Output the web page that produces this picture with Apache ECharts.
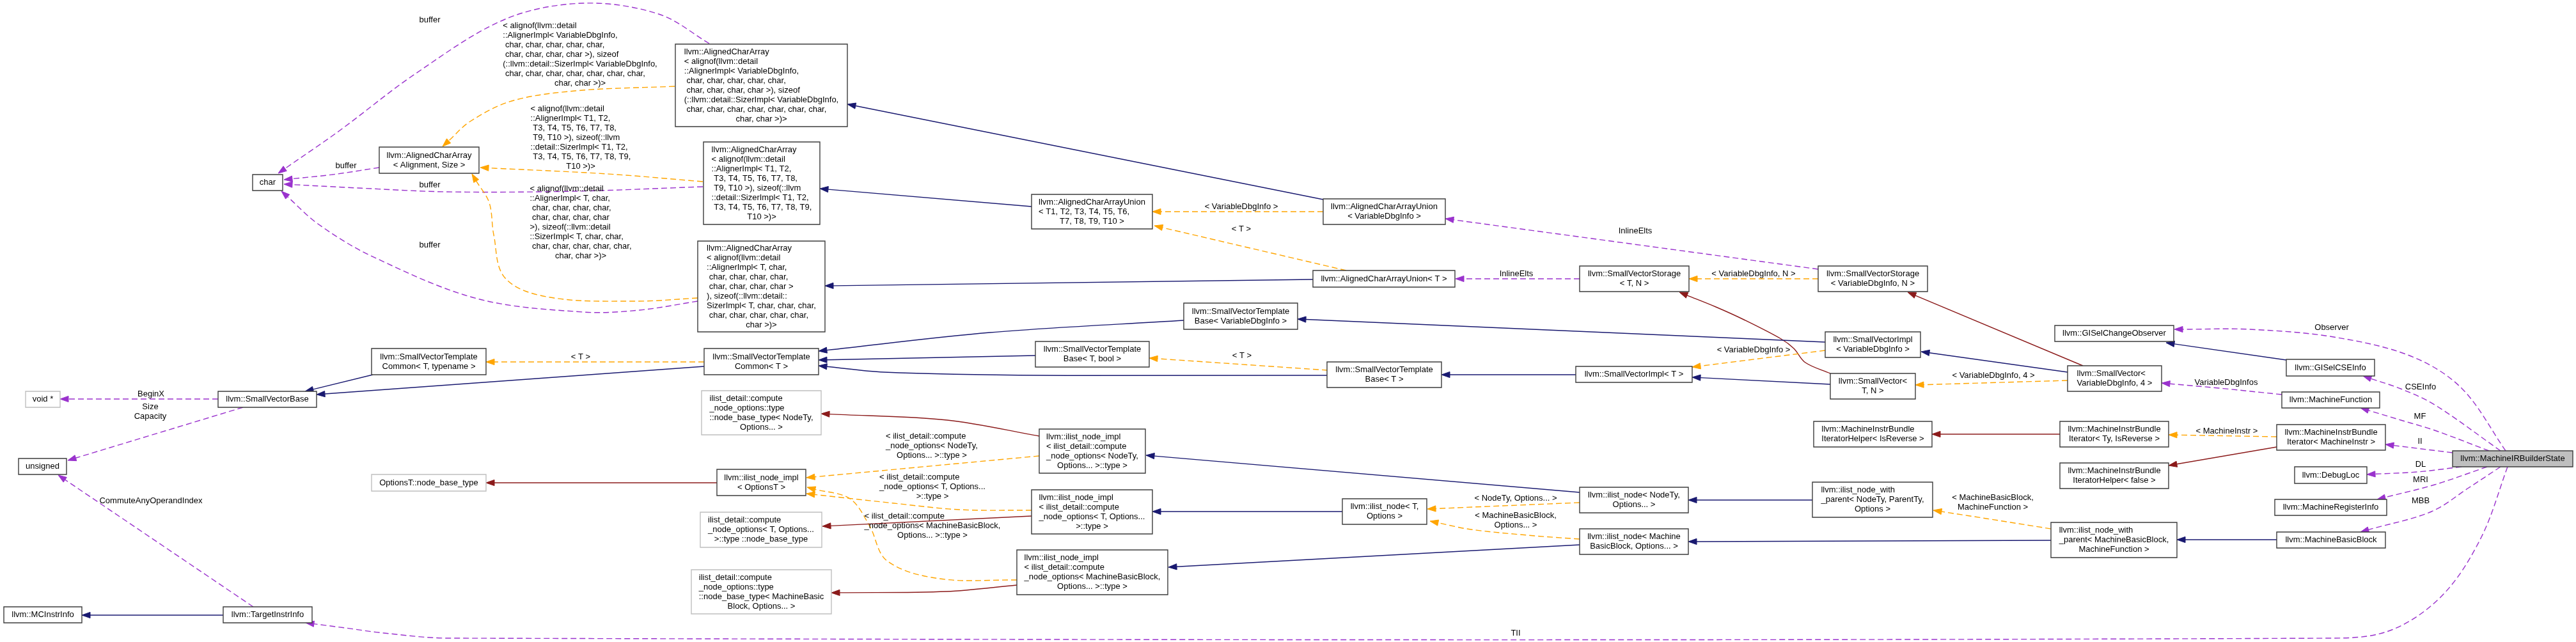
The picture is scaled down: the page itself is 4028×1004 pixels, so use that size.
<!DOCTYPE html>
<html>
<head>
<meta charset="utf-8">
<script src="https://cdn.jsdelivr.net/npm/echarts@6/dist/echarts.min.js"></script>
<style>
html,body{margin:0;padding:0;background:#ffffff;}
#chart{width:4028px;height:1004px;}
</style>
</head>
<body>
<div id="chart"></div>
<script>
// ---------- class nodes (labels) ----------
const nodeLabels = [
  'llvm::MachineIRBuilderState',
  'char',
  'llvm::AlignedCharArray\n< Alignment, Size >',
  'llvm::AlignedCharArray\n< alignof(llvm::detail\n::AlignerImpl< VariableDbgInfo,\n char, char, char, char, char,\n char, char, char, char >), sizeof\n(::llvm::detail::SizerImpl< VariableDbgInfo,\n char, char, char, char, char, char, char,\nchar, char >)>',
  'llvm::AlignedCharArray\n< alignof(llvm::detail\n::AlignerImpl< T1, T2,\n T3, T4, T5, T6, T7, T8,\n T9, T10 >), sizeof(::llvm\n::detail::SizerImpl< T1, T2,\n T3, T4, T5, T6, T7, T8, T9,\nT10 >)>',
  'llvm::AlignedCharArray\n< alignof(llvm::detail\n::AlignerImpl< T, char,\n char, char, char, char,\n char, char, char, char >\n), sizeof(::llvm::detail::\nSizerImpl< T, char, char, char,\n char, char, char, char, char,\nchar >)>',
  'llvm::AlignedCharArrayUnion\n< T1, T2, T3, T4, T5, T6,\nT7, T8, T9, T10 >',
  'llvm::AlignedCharArrayUnion\n< VariableDbgInfo >',
  'llvm::AlignedCharArrayUnion< T >',
  'llvm::SmallVectorTemplate\nBase< VariableDbgInfo >',
  'llvm::SmallVectorTemplate\nCommon< T, typename >',
  'llvm::SmallVectorTemplate\nCommon< T >',
  'llvm::SmallVectorTemplate\nBase< T, bool >',
  'llvm::SmallVectorTemplate\nBase< T >',
  'void *',
  'llvm::SmallVectorBase',
  'unsigned',
  'llvm::MCInstrInfo',
  'llvm::TargetInstrInfo',
  'OptionsT::node_base_type',
  'ilist_detail::compute\n_node_options::type\n::node_base_type< NodeTy,\nOptions... >',
  'llvm::ilist_node_impl\n< OptionsT >',
  'ilist_detail::compute\n_node_options< T, Options...\n>::type ::node_base_type',
  'ilist_detail::compute\n_node_options::type\n::node_base_type< MachineBasic\nBlock, Options... >',
  'llvm::ilist_node_impl\n< ilist_detail::compute\n_node_options< NodeTy,\nOptions... >::type >',
  'llvm::ilist_node_impl\n< ilist_detail::compute\n_node_options< T, Options...\n>::type >',
  'llvm::ilist_node_impl\n< ilist_detail::compute\n_node_options< MachineBasicBlock,\nOptions... >::type >',
  'llvm::ilist_node< T,\nOptions >',
  'llvm::SmallVectorStorage\n< T, N >',
  'llvm::SmallVectorStorage\n< VariableDbgInfo, N >',
  'llvm::SmallVectorImpl\n< VariableDbgInfo >',
  'llvm::SmallVectorImpl< T >',
  'llvm::SmallVector<\nT, N >',
  'llvm::MachineInstrBundle\nIteratorHelper< IsReverse >',
  'llvm::ilist_node< NodeTy,\nOptions... >',
  'llvm::ilist_node_with\n_parent< NodeTy, ParentTy,\nOptions >',
  'llvm::ilist_node< Machine\nBasicBlock, Options... >',
  'llvm::GISelChangeObserver',
  'llvm::SmallVector<\nVariableDbgInfo, 4 >',
  'llvm::GISelCSEInfo',
  'llvm::MachineFunction',
  'llvm::MachineInstrBundle\nIterator< Ty, IsReverse >',
  'llvm::MachineInstrBundle\nIterator< MachineInstr >',
  'llvm::MachineInstrBundle\nIteratorHelper< false >',
  'llvm::DebugLoc',
  'llvm::MachineRegisterInfo',
  'llvm::MachineBasicBlock',
  'llvm::ilist_node_with\n_parent< MachineBasicBlock,\nMachineFunction >'
];
// node kind: 'main' = the documented class of the page, 'doc' = documented, 'undoc' = undocumented
const nodeKinds = ['main','doc','doc','doc','doc','doc','doc','doc','doc','doc','doc','doc','doc','doc',
  'undoc','doc','doc','doc','doc','undoc','undoc','doc','undoc','undoc','doc','doc','doc','doc','doc','doc',
  'doc','doc','doc','doc','doc','doc','doc','doc','doc','doc','doc','doc','doc','doc','doc','doc','doc','doc'];

// ---------- layout of the diagram (box corners, diagram units) ----------
const nodeBoxes = [
  [3835,705,4023,730],[395,273,442,298],[593,230,749,271],[1056,69,1325,198],[1100,222,1282,351],
  [1091,377,1290,519],[1613,304,1802,358],[2069,311,2260,351],[2053,423,2275,449],[1851,474,2029,515],
  [581,545,760,586],[1101,545,1280,586],[1619,534,1797,574],[2075,566,2254,606],[40,612,94,637],
  [341,612,495,637],[29,717,104,742],[6,949,128,974],[349,949,488,974],[581,742,760,768],
  [1097,611,1284,680],[1121,734,1260,775],[1095,801,1285,856],[1081,891,1300,960],[1625,671,1791,740],
  [1613,766,1802,835],[1590,860,1826,930],[2099,780,2231,820],[2470,416,2641,456],[2843,416,3014,456],
  [2854,519,3003,559],[2464,573,2646,598],[2862,584,2995,624],[2836,659,3021,699],[2470,762,2640,802],
  [2834,754,3022,809],[2470,827,2640,867],[3213,509,3399,534],[3233,572,3380,612],[3575,562,3713,588],
  [3568,613,3721,638],[3221,659,3391,699],[3560,664,3730,704],[3221,724,3391,764],[3588,730,3701,756],
  [3557,781,3732,806],[3560,832,3730,857],[3207,817,3404,872]
];

// ---------- relations ----------
// kind: m = member usage, t = template instance, i = public inheritance, p = private inheritance
const edgeFrom = [3,3,4,4,2,5,5,7,6,8,7,8,28,29,29,32,38,38,38,30,32,30,31,9,12,13,13,11,10,11,15,15,18,18,0,
  21,24,24,25,26,25,26,27,34,34,36,36,35,47,47,41,42,42,39,40,0,0,0,0,0,0,0,46];
const edgeTo   = [1,2,2,1,1,1,2,3,4,5,6,6,8,7,28,28,29,30,32,31,31,9,13,11,11,11,12,15,15,10,14,16,16,17,18,
  19,20,21,21,21,22,23,25,24,27,27,26,34,36,35,33,41,43,37,38,37,39,40,42,44,45,46,47];
const edgeKinds = ['m','t','t','m','m','m','t','i','i','i','t','t','m','m','t','p','p','i','t','t','i','i','i','i','i','i','t','i','i','t','m','m','m','i','m',
  'p','p','t','t','t','p','p','i','i','t','t','i','i','i','t','p','t','p','i','m','m','m','m','m','m','m','m','i'];
const edgeLabels = [
  'buffer',
  '< alignof(llvm::detail\n::AlignerImpl< VariableDbgInfo,\n char, char, char, char, char,\n char, char, char, char >), sizeof\n(::llvm::detail::SizerImpl< VariableDbgInfo,\n char, char, char, char, char, char, char,\nchar, char >)>',
  '< alignof(llvm::detail\n::AlignerImpl< T1, T2,\n T3, T4, T5, T6, T7, T8,\n T9, T10 >), sizeof(::llvm\n::detail::SizerImpl< T1, T2,\n T3, T4, T5, T6, T7, T8, T9,\nT10 >)>',
  'buffer',
  'buffer',
  'buffer',
  '< alignof(llvm::detail\n::AlignerImpl< T, char,\n char, char, char, char,\n char, char, char, char\n>), sizeof(::llvm::detail\n::SizerImpl< T, char, char,\n char, char, char, char, char,\nchar, char >)>',
  '','','',
  '< VariableDbgInfo >',
  '< T >',
  'InlineElts',
  'InlineElts',
  '< VariableDbgInfo, N >',
  '','','',
  '< VariableDbgInfo, 4 >',
  '< VariableDbgInfo >',
  '','','','','','',
  '< T >',
  '','',
  '< T >',
  'BeginX',
  'Size\nCapacity',
  'CommuteAnyOperandIndex',
  '',
  'TII',
  '','',
  '< ilist_detail::compute\n_node_options< NodeTy,\nOptions... >::type >',
  '< ilist_detail::compute\n_node_options< T, Options...\n>::type >',
  '< ilist_detail::compute\n_node_options< MachineBasicBlock,\nOptions... >::type >',
  '','','','',
  '< NodeTy, Options... >',
  '< MachineBasicBlock,\nOptions... >',
  '','','',
  '< MachineBasicBlock,\nMachineFunction >',
  '',
  '< MachineInstr >',
  '','',
  'VariableDbgInfos',
  'Observer','CSEInfo','MF','II','DL','MRI','MBB',
  ''
];
// edge routes (points the spline passes through, start -> arrow tip)
const edgeRoutes = [
  [[1109,68],[1030,22],[912,5],[790,30],[650,115],[530,205],[435,271]],
  [[1055,135],[900,142],[800,158],[735,190],[692,229]],
  [[1099,284],[950,272],[751,262]],
  [[1099,292],[900,299],[700,300],[560,294],[444,288]],
  [[593,262],[520,273],[444,281]],
  [[1091,471],[1000,485],[912,488],[746,467],[580,400],[497,350],[440,299]],
  [[1091,466],[995,471],[860,465],[790,435],[772,367],[765,317],[738,272]],
  [[2069,312],[1325,163]],
  [[1613,323],[1282,295]],
  [[2053,437],[1290,447]],
  [[2069,331],[1802,331]],
  [[2105,423],[1805,353]],
  [[2470,436],[2276,436]],
  [[2843,421],[2260,342]],
  [[2843,436],[2641,436]],
  [[2862,584],[2823,567],[2805,545],[2785,530],[2727,500],[2683,480],[2626,457]],
  [[3257,572],[2983,457]],
  [[3233,582],[3004,550]],
  [[3233,595],[2995,602]],
  [[2854,548],[2646,574]],
  [[2862,601],[2646,590]],
  [[2854,535],[2029,499]],
  [[2464,586],[2254,586]],
  [[1851,501],[1548,520],[1280,549]],
  [[1619,556],[1280,563]],
  [[2076,587],[1630,587],[1382,582],[1280,572]],
  [[2076,579],[1797,560]],
  [[1101,573],[495,617]],
  [[583,586],[477,612]],
  [[1101,566],[760,566]],
  [[341,624],[94,624]],
  [[380,637],[106,720]],
  [[396,949],[91,743]],
  [[349,962],[128,962]],
  [[3921,730],[3880,840],[3820,930],[3740,985],[3650,998],[700,998],[600,990],[540,982],[478,974]],
  [[1121,755],[760,755]],
  [[1625,682],[1481,657],[1284,647]],
  [[1625,713],[1261,747]],
  [[1613,798],[1500,797],[1398,787],[1261,772]],
  [[1590,907],[1469,905],[1387,877],[1360,823],[1329,780],[1262,762]],
  [[1613,807],[1286,823]],
  [[1590,915],[1480,925],[1300,927]],
  [[2099,800],[1802,800]],
  [[2470,770],[1792,712]],
  [[2470,786],[2350,791],[2232,796]],
  [[2470,843],[2400,838],[2300,828],[2236,815]],
  [[2470,852],[1827,887]],
  [[2834,782],[2640,782]],
  [[3207,845],[2640,847]],
  [[3207,827],[3100,810],[3023,798]],
  [[3221,679],[3021,679]],
  [[3560,683],[3391,680]],
  [[3560,699],[3391,728]],
  [[3575,563],[3387,536]],
  [[3568,617],[3470,607],[3380,599]],
  [[3918,705],[3849,607],[3770,557],[3649,527],[3517,515],[3400,515]],
  [[3910,705],[3807,633],[3754,608],[3695,588]],
  [[3892,705],[3807,673],[3754,657],[3691,638]],
  [[3835,708],[3730,695]],
  [[3849,730],[3780,738],[3701,742]],
  [[3889,730],[3807,758],[3717,781]],
  [[3910,730],[3860,763],[3802,800],[3691,832]],
  [[3560,844],[3404,844]]
];
// label anchors: [centre x, centre y of first line]
const edgeLabelAnchors = [
  [672,31],[907,40],[908,170],[672,289],[541,259],[672,383],[908,295],null,null,null,
  [1941,323],[1941,358],[2371,428],[2557,361],[2742,428],null,null,null,[3117,587],[2742,547],
  null,null,null,null,null,null,[1942,556],null,null,[908,558],
  [236,616],[235,636],[236,783],null,[2370,990],
  null,null,[1457,682],[1458,746],[1458,807],null,null,null,null,[2370,779],[2370,806],null,null,null,[3116,778],
  null,[3482,674],null,null,[3481,598],[3646,512],[3785,605],[3784,651],[3784,690],[3785,726],[3785,750],[3785,783],null
];

// ---------- styles ----------
const FONT = '13px "Liberation Sans", Arial, Helvetica, sans-serif';
const LINE_H = 15;
const EDGE_STYLE = {
  m: {color:'#9A32CD', dash:[9,5]},
  t: {color:'#FFA500', dash:[9,5]},
  i: {color:'#191970', dash:null},
  p: {color:'#8B1A1A', dash:null}
};
const ARROW_LEN = 13, ARROW_HALF = 4.6;

const measureCtx = document.createElement('canvas').getContext('2d');
measureCtx.font = FONT;
function textW(s){ return measureCtx.measureText(s).width; }

// text block: all lines left aligned inside the block, last line centred
function textBlock(lines, cx, y0, allCentered) {
  const maxW = Math.max.apply(null, lines.map(textW));
  const left = cx - maxW / 2;
  return lines.map(function (ln, k) {
    const centre = allCentered || lines.length === 1 || k === lines.length - 1;
    return {
      type: 'text',
      x: centre ? cx : left,
      y: y0 + k * LINE_H,
      style: {text: ln, fill: '#000000', font: FONT, align: centre ? 'center' : 'left', verticalAlign: 'middle'},
      silent: true
    };
  });
}

function splinePath(pts) {
  const n = pts.length;
  const f = function (v) { return v.toFixed(2); };
  let d = 'M' + f(pts[0][0]) + ',' + f(pts[0][1]);
  if (n === 2) return d + 'L' + f(pts[1][0]) + ',' + f(pts[1][1]);
  const tan = pts.map(function (p, i) {
    const a = pts[Math.max(0, i - 1)], b = pts[Math.min(n - 1, i + 1)];
    const dx = b[0] - a[0], dy = b[1] - a[1], L = Math.hypot(dx, dy) || 1;
    return [dx / L, dy / L];
  });
  for (let i = 0; i < n - 1; i++) {
    const p = pts[i], q = pts[i + 1];
    const L = Math.hypot(q[0] - p[0], q[1] - p[1]) / 3;
    d += 'C' + f(p[0] + tan[i][0] * L) + ',' + f(p[1] + tan[i][1] * L) + ',' +
      f(q[0] - tan[i + 1][0] * L) + ',' + f(q[1] - tan[i + 1][1] * L) + ',' + f(q[0]) + ',' + f(q[1]);
  }
  return d;
}

function renderEdge(params, api) {
  const e = api.value(2);
  const st = EDGE_STYLE[edgeKinds[e]];
  const pts = edgeRoutes[e].map(function (p) { return api.coord(p); });
  const n = pts.length;
  const tip = pts[n - 1], prev = pts[n - 2];
  let dx = tip[0] - prev[0], dy = tip[1] - prev[1];
  const L = Math.hypot(dx, dy) || 1; dx /= L; dy /= L;
  const base = [tip[0] - dx * ARROW_LEN, tip[1] - dy * ARROW_LEN];
  const linePts = pts.slice(0, n - 1).concat([base]);
  return {
    type: 'group',
    children: [
      {type: 'path', shape: {pathData: splinePath(linePts)},
       style: {fill: 'none', stroke: st.color, lineWidth: 1.4, lineDash: st.dash}, silent: true},
      {type: 'polygon', shape: {points: [tip,
        [base[0] - dy * ARROW_HALF, base[1] + dx * ARROW_HALF],
        [base[0] + dy * ARROW_HALF, base[1] - dx * ARROW_HALF]]},
       style: {fill: st.color, stroke: st.color, lineWidth: 1}, silent: true}
    ]
  };
}

function renderEdgeLabel(params, api) {
  const e = api.value(2);
  const a = edgeLabelAnchors[e];
  const c = api.coord(a);
  return {type: 'group', children: textBlock(edgeLabels[e].split('\n'), c[0], c[1], edgeKinds[e] === 'm')};
}

function renderNode(params, api) {
  const i = api.value(2);
  const b = nodeBoxes[i];
  const p0 = api.coord([b[0], b[1]]), p1 = api.coord([b[2], b[3]]);
  const kind = nodeKinds[i];
  const lines = nodeLabels[i].split('\n');
  const cx = (p0[0] + p1[0]) / 2, cy = (p0[1] + p1[1]) / 2;
  const y0 = cy - (lines.length - 1) * LINE_H / 2;
  const rect = {
    type: 'rect',
    shape: {x: p0[0], y: p0[1], width: p1[0] - p0[0], height: p1[1] - p0[1]},
    style: {
      fill: kind === 'main' ? '#BFBFBF' : '#FFFFFF',
      stroke: kind === 'undoc' ? '#BFBFBF' : '#3C3C3C',
      lineWidth: 1.4
    }
  };
  return {type: 'group', children: [rect].concat(textBlock(lines, cx, y0, false))};
}

const edgeData = edgeFrom.map(function (f, i) { return [edgeRoutes[i][0][0], edgeRoutes[i][0][1], i]; });
const labelData = [];
edgeLabels.forEach(function (l, i) { if (l && edgeLabelAnchors[i]) labelData.push([edgeLabelAnchors[i][0], edgeLabelAnchors[i][1], i]); });
const nodeData = nodeBoxes.map(function (b, i) { return [(b[0] + b[2]) / 2, (b[1] + b[3]) / 2, i]; });

const chart = echarts.init(document.getElementById('chart'), null, {renderer: 'canvas'});
chart.setOption({
  animation: false,
  backgroundColor: '#ffffff',
  grid: {left: 0, right: 0, top: 0, bottom: 0},
  xAxis: {type: 'value', min: 0, max: 4028, show: false},
  yAxis: {type: 'value', min: 0, max: 1004, inverse: true, show: false},
  tooltip: {show: false},
  series: [
    {type: 'custom', name: 'relations', coordinateSystem: 'cartesian2d', clip: false, z: 1,
     encode: {x: 0, y: 1}, data: edgeData, renderItem: renderEdge},
    {type: 'custom', name: 'classes', coordinateSystem: 'cartesian2d', clip: false, z: 2,
     encode: {x: 0, y: 1}, data: nodeData, renderItem: renderNode},
    {type: 'custom', name: 'relation labels', coordinateSystem: 'cartesian2d', clip: false, z: 3,
     encode: {x: 0, y: 1}, data: labelData, renderItem: renderEdgeLabel}
  ]
});
</script>
</body>
</html>
